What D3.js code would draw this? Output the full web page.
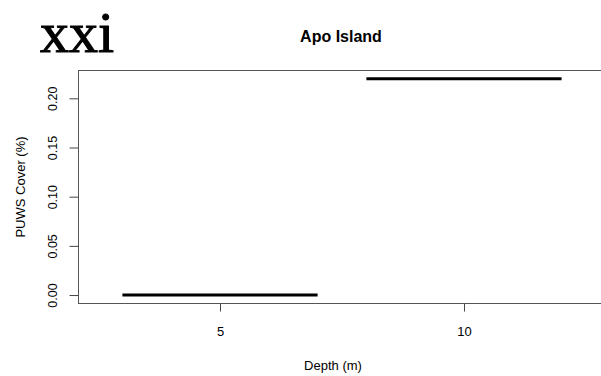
<!DOCTYPE html>
<html>
<head>
<meta charset="utf-8">
<script src="https://cdn.jsdelivr.net/npm/d3@7"></script>
<style>
  body { margin: 0; background: #fff; }
  text { font-family: "Liberation Sans", Arial, sans-serif; fill: #000; }
</style>
</head>
<body>
<svg id="chart" width="601" height="376"></svg>
<script>
// depth groups and the median PUWS cover for each
var depths = ["5", "10"];
var medians = [0.00, 0.22];
var yTicks = [0.00, 0.05, 0.10, 0.15, 0.20];

var svg = d3.select("#chart");

// R boxplot: groups at 1..n, xlim 0.5..n+0.5 plus 4%
var x = d3.scaleLinear().domain([0.42, 2.58]).range([78.5, 605.5]);
var y = d3.scaleLinear().domain([-0.0088, 0.2288]).range([303.7, 70]);

svg.append("text")
    .attr("x", 40).attr("y", 52)
    .style("font-family", "'Liberation Serif', 'Times New Roman', serif")
    .style("font-size", "58px")
    .style("stroke", "#000")
    .style("stroke-width", "1px")
    .text("xxi");

svg.append("text")
    .attr("x", 341).attr("y", 42)
    .attr("text-anchor", "middle")
    .style("font-weight", "bold")
    .style("font-size", "16px")
    .text("Apo Island");

// median lines
svg.selectAll("line.med")
    .data(medians)
    .enter().append("line")
    .attr("class", "med")
    .attr("x1", function(d, i) { return x(i + 1 - 0.4); })
    .attr("x2", function(d, i) { return x(i + 1 + 0.4); })
    .attr("y1", function(d) { return y(d); })
    .attr("y2", function(d) { return y(d); })
    .attr("stroke", "#000")
    .attr("stroke-width", 3);

// plot frame
svg.append("rect")
    .attr("x", 78.5).attr("y", 70.5)
    .attr("width", 605.5 - 78.5).attr("height", 303.5 - 70.5)
    .attr("fill", "none")
    .attr("stroke", "#555");

var yAxis = svg.append("g")
    .attr("transform", "translate(78.5,0)")
    .call(d3.axisLeft(y).tickValues(yTicks).tickSize(9).tickSizeOuter(0)
        .tickFormat(d3.format(".2f")));
yAxis.select(".domain").remove();
yAxis.selectAll(".tick line").attr("stroke", "#444");
yAxis.selectAll(".tick text")
    .attr("x", 0).attr("dy", 0)
    .attr("transform", "translate(-22,0) rotate(-90)")
    .attr("text-anchor", "middle")
    .style("font-size", "12.5px")
    .style("font-family", "'Liberation Sans', Arial, sans-serif")
    .attr("fill", "#000");

var xAxis = svg.append("g")
    .attr("transform", "translate(0,303.5)")
    .call(d3.axisBottom(x).tickValues([1, 2]).tickSize(8).tickSizeOuter(0)
        .tickFormat(function(d) { return depths[d - 1]; }));
xAxis.select(".domain").remove();
xAxis.selectAll(".tick line").attr("stroke", "#444");
xAxis.selectAll(".tick text")
    .attr("y", 32).attr("dy", 0)
    .style("font-size", "13px")
    .style("font-family", "'Liberation Sans', Arial, sans-serif")
    .attr("fill", "#000");

svg.append("text")
    .attr("x", 333).attr("y", 370)
    .attr("text-anchor", "middle")
    .style("font-size", "13px")
    .text("Depth (m)");

svg.append("text")
    .attr("transform", "translate(25,187) rotate(-90)")
    .attr("text-anchor", "middle")
    .style("font-size", "13px")
    .text("PUWS Cover (%)");
</script>
</body>
</html>
